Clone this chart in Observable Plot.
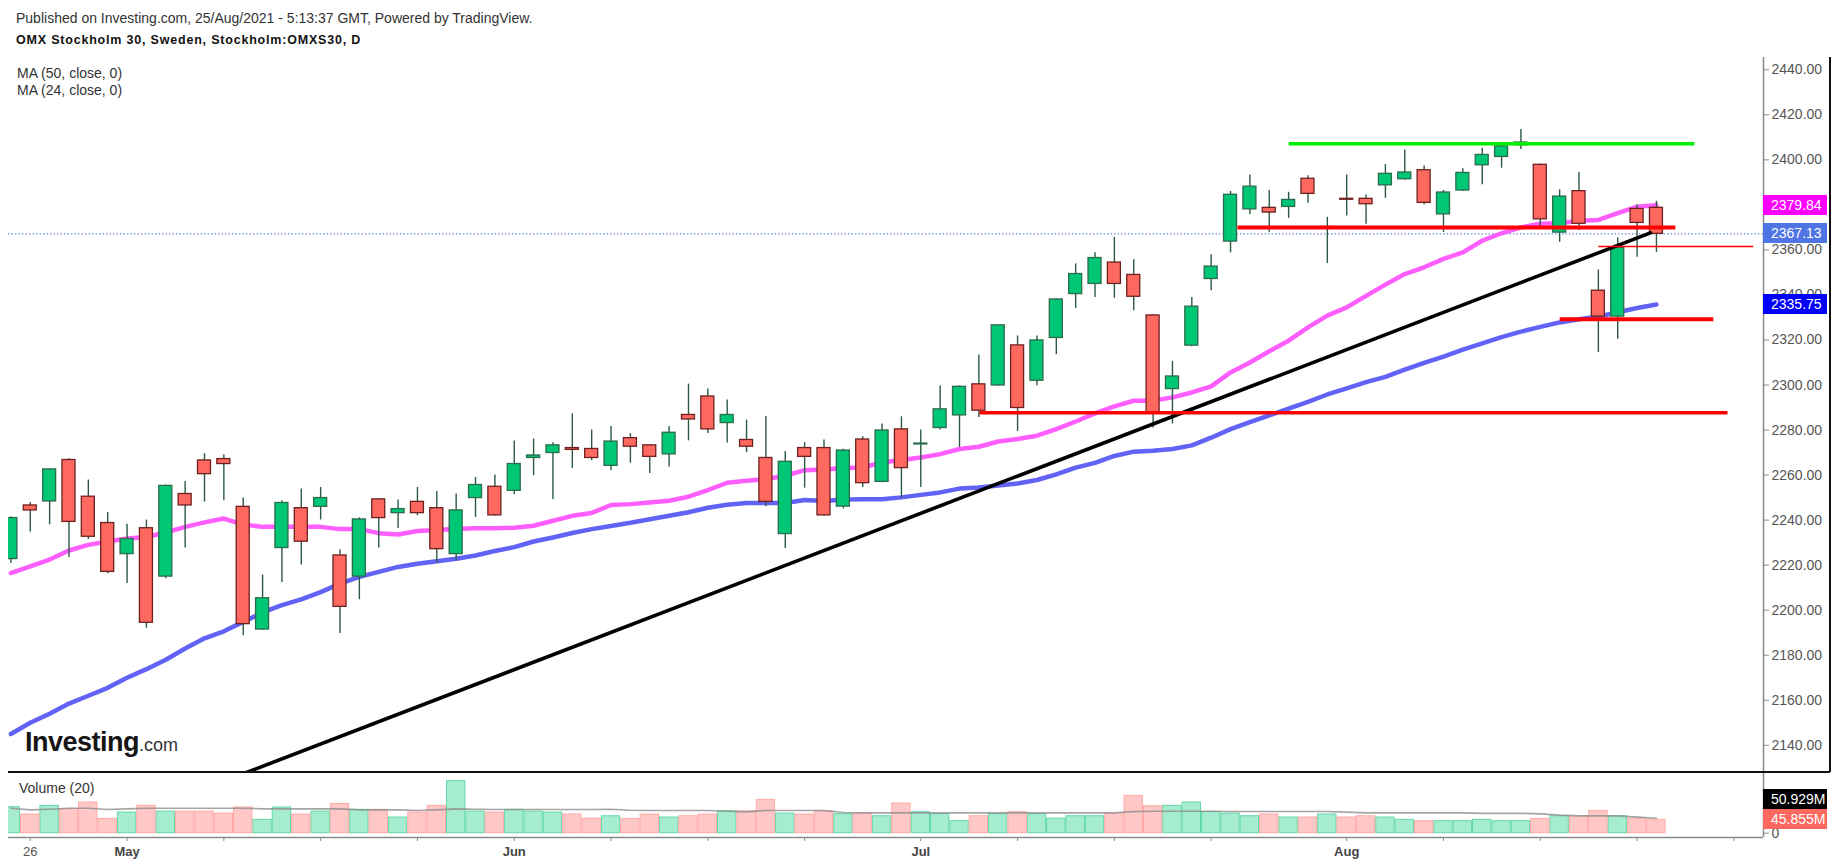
<!DOCTYPE html>
<html>
<head>
<meta charset="utf-8">
<script src="https://cdn.jsdelivr.net/npm/d3@7"></script>
<script src="https://cdn.jsdelivr.net/npm/@observablehq/plot@0.6"></script>
<style>
  html, body { margin: 0; padding: 0; background: #fff; }
  body { font-family: "Liberation Sans", Arial, sans-serif; }
  #wrap { position: relative; width: 1837px; height: 866px; overflow: hidden; background: #fff; }
  #wrap > svg { position: absolute; left: 0; }
  .t { position: absolute; white-space: nowrap; line-height: 1; transform: translateY(-50%); }
  .box { position: absolute; left: 1763px; width: 64px; height: 20px; line-height: 20px; color: #fff;
         font-size: 14px; padding-left: 8px; box-sizing: border-box; }
  .hl { position: absolute; }
</style>
</head>
<body>
<div id="wrap"></div>
<script>
// ---------- data ----------
// trading-day index 0 = 23 Apr 2021 ... 85 = 24 Aug 2021
const open  = [2222.7,2246.5,2248.3,2266.7,2250.4,2238.7,2224.9,2236.4,2214.9,2251.6,2266.5,2267.1,2245.9,2191.4,2227.6,2245.3,2245.9,2224.3,2214.9,2249.2,2243.1,2248.1,2245.3,2224.9,2249.8,2254.8,2253.0,2267.6,2269.8,2272.0,2271.6,2264.1,2276.4,2273.2,2269.2,2286.7,2294.9,2283.1,2275.6,2267.6,2233.8,2272.0,2272.0,2246.0,2275.8,2257.0,2280.3,2273.6,2280.9,2286.5,2300.3,2299.8,2317.6,2301.9,2320.9,2340.4,2344.9,2354.4,2348.9,2330.9,2298.2,2317.5,2347.1,2363.7,2378.0,2378.7,2379.1,2391.6,2369.8,2382.7,2382.7,2388.7,2391.4,2395.4,2375.8,2386.4,2397.6,2401.3,2406.5,2397.8,2367.7,2386.1,2341.9,2330.4,2378.2,2378.7];
const high  = [2241.5,2247.8,2262.8,2267.2,2257.8,2243.4,2238.2,2240.0,2255.6,2257.2,2269.5,2268.9,2249.8,2215.6,2248.6,2253.8,2254.5,2226.7,2241.0,2249.6,2248.9,2254.5,2252.7,2251.6,2258.9,2260.0,2275.1,2276.0,2274.4,2287.2,2280.0,2281.6,2278.4,2273.6,2281.6,2300.4,2298.2,2293.3,2284.4,2286.0,2270.5,2274.4,2275.6,2271.5,2277.0,2282.7,2285.9,2280.0,2299.6,2299.6,2313.3,2326.8,2321.8,2321.8,2338.2,2353.8,2358.8,2365.6,2355.6,2331.2,2310.5,2338.9,2357.9,2386.0,2393.3,2386.4,2385.6,2392.9,2374.5,2393.3,2384.4,2397.9,2404.4,2397.3,2386.4,2396.1,2405.2,2407.4,2413.5,2398.2,2386.7,2394.4,2351.1,2365.3,2380.0,2381.6];
const low   = [2220.7,2234.7,2237.9,2223.4,2231.4,2216.2,2211.8,2192.0,2214.0,2227.6,2248.0,2248.6,2188.6,2191.0,2212.3,2220.1,2240.1,2189.6,2204.6,2227.6,2236.3,2241.9,2220.9,2221.9,2241.2,2241.8,2251.4,2259.7,2249.2,2262.9,2266.4,2261.9,2265.3,2260.7,2263.6,2275.2,2278.5,2274.2,2270.0,2245.9,2227.4,2254.2,2241.8,2245.0,2254.5,2256.6,2249.8,2254.5,2280.0,2272.3,2285.6,2299.5,2279.4,2299.7,2313.5,2334.0,2338.9,2338.5,2333.0,2280.9,2282.7,2317.0,2341.9,2358.7,2375.7,2367.8,2374.0,2380.7,2354.0,2375.1,2371.4,2382.9,2391.0,2380.1,2367.8,2386.0,2389.0,2396.3,2404.6,2369.6,2363.4,2368.6,2314.5,2320.3,2356.7,2358.9];
const close = [2240.9,2244.3,2262.5,2239.2,2232.6,2217.0,2231.6,2194.4,2255.2,2246.5,2260.4,2264.9,2193.8,2205.3,2247.6,2230.4,2249.8,2201.5,2240.3,2240.9,2244.9,2243.1,2227.1,2244.3,2255.6,2242.1,2264.9,2268.7,2273.2,2271.2,2267.6,2274.9,2272.6,2268.1,2278.8,2284.7,2280.3,2286.7,2272.6,2248.1,2265.9,2268.1,2242.1,2270.9,2256.4,2279.8,2263.1,2274.0,2289.2,2299.2,2288.6,2326.5,2289.8,2319.8,2338.0,2349.3,2356.4,2344.9,2339.2,2287.6,2303.8,2334.8,2352.6,2384.5,2388.1,2376.6,2382.2,2384.9,2370.2,2382.3,2380.3,2393.8,2394.4,2380.9,2385.5,2394.2,2402.2,2406.0,2407.7,2373.6,2383.7,2371.6,2330.4,2360.9,2372.0,2367.13];
const ma50  = [2145,2150,2154,2158.5,2162,2165.5,2170,2173.8,2178,2183,2187.5,2190.6,2194.8,2199,2202.2,2204.8,2208,2211.8,2214.8,2217,2219.2,2220.6,2221.7,2222.8,2224.3,2226.3,2228,2230.5,2232.3,2234.3,2236,2237.4,2238.8,2240.4,2241.9,2243.5,2245.5,2246.8,2247.6,2247.6,2247.6,2248.9,2248.5,2249.2,2249.3,2249.3,2250.1,2251.2,2252.3,2254,2254.5,2255.4,2256.3,2257.8,2260.3,2263.3,2265.4,2268.5,2270.4,2270.8,2271.6,2273.2,2276.6,2280.4,2283.5,2286.5,2289.5,2292.5,2295.8,2298.5,2301.3,2303.6,2306.8,2309.8,2312.6,2315.7,2318.5,2321.3,2323.7,2325.8,2327.8,2329.2,2330.4,2332.3,2334.2,2335.75];
const ma24  = [2216.5,2219.5,2222.5,2226.5,2229,2230.5,2231.8,2232.5,2234.5,2237,2239,2240.7,2238,2237,2237,2237,2237,2236,2236,2234.2,2233.6,2235.2,2235.6,2236,2236.4,2236.4,2236.6,2237.5,2239.7,2241.9,2243.2,2246.7,2247.1,2247.8,2248.6,2250.4,2253.3,2256.6,2257.5,2258.2,2259.7,2262.2,2262.5,2263.1,2263.4,2265.6,2266.7,2267.8,2269.3,2271.6,2272.6,2274.9,2276,2277.5,2280.4,2283.8,2287.4,2290.5,2293,2293,2294.5,2296.7,2299.4,2305.6,2310,2315,2319.7,2325.6,2330.8,2334.5,2339.6,2344.6,2349.3,2352.3,2356,2358.9,2364.1,2367.4,2370,2371.6,2371.8,2373,2373.3,2376.3,2379.2,2379.84];
// volume in millions
const volume = [89,64,93.6,83,105,49,70.7,93.6,74,74,74,67,88,45.6,88,64,74,100,80,80,53.6,70.7,93.6,178,74,70.7,80,74,70.7,64,50,58,49,64,53.6,58,64,75,75,114,67,64,75,65,67,58,101.5,72,65,41,58,65,72,65,50,58,58,67,127.8,92,93.6,105,72,67,58,64,53.6,53.6,64,53.6,58,53.6,45.6,41,41,41,45.6,41,41,49,58,58,76,58,50,45.855];
const volMA  = [85.6,79.9,82.1,85.6,85.6,81.0,83.3,85.6,85.6,85.6,85.6,85.6,85.6,83.3,83.3,83.3,83.3,83.3,79.9,79.9,79.9,77.6,79.9,83.3,82.1,81.0,81.0,81.0,81.0,81.0,81.0,82.1,78.5,77.6,77.6,77.6,77.6,75,73,77.6,77.6,77.6,77.6,71,69.6,69.6,69.6,69.6,69.6,69.6,69.6,69.6,69.6,69.6,69.6,69.6,69.6,69.6,74,75.3,75.3,75.3,75.3,74.2,74.2,74.2,74.2,74.2,74.2,72,69.6,69.6,69.6,69.6,69.6,69.6,68,68,68,66.2,62,59.3,59.3,59.3,55,50.929];
// drawn levels
const levelPrice = [2407.2, 2370.0, 2361.5, 2329.2, 2287.7];
const levelFrom  = [66.0, 63.36, 82.0, 80.0, 50.03];
const levelTo    = [86.96, 85.98, 90.0, 87.94, 88.67];
const levelColor = ["#00ee00", "#ff0000", "#ff0000", "#ff0000", "#ff0000"];
const levelWidth = [3.5, 4, 1.6, 4, 3.5];
const trendIdx   = [12.2, 84.69];
const trendPrice = [2128.0, 2367.6];
// axes
const priceTicks = d3.range(2140, 2441, 20);
const dateTickIdx = [1,6,11,16,21,26,31,36,41,47,52,57,62,69,74,79,84,89];
const dayLabelIdx = [1];
const dayLabels = ["26"];
const monthLabelIdx = [6, 26, 47, 69];
const monthLabels = ["May", "Jun", "Jul", "Aug"];

// ---------- build ----------
const FONT = '"Liberation Sans", Arial, sans-serif';
const GREEN = "#00c776", GREEN_EDGE = "#2c6b4c";
const RED = "#fd695f", RED_EDGE = "#6e2020";
const xDomain = [-0.124, 90.53];

const candles = close.map((c, i) => ({
  i, o: open[i], h: high[i], l: low[i], c, v: volume[i], up: c >= open[i]
}));
const ups = candles.filter(d => d.up), downs = candles.filter(d => !d.up);
const ma50Rows = ma50.map((v, i) => ({i, v}));
const ma24Rows = ma24.map((v, i) => ({i, v}));
const volMARows = volMA.map((v, i) => ({i, v}));
const levels = levelPrice.map((p, k) => ({p, a: levelFrom[k], b: levelTo[k], color: levelColor[k], w: levelWidth[k]}));
const trend = trendIdx.map((i, k) => ({i, p: trendPrice[k]}));
const HW = 0.336;

const price = Plot.plot({
  width: 1837, height: 772,
  marginTop: 57, marginBottom: 0, marginLeft: 8, marginRight: 74,
  x: {domain: xDomain, axis: null},
  y: {domain: [2127.9, 2445.47]},
  style: {fontFamily: FONT, background: "transparent", overflow: "visible"},
  marks: [
    Plot.ruleY([close[close.length - 1]], {stroke: "#4a6fe3", strokeWidth: 1, strokeDasharray: "1.5,2"}),
    Plot.line(ma50Rows, {x: "i", y: "v", stroke: "#5a5bf6", strokeWidth: 4.5, strokeOpacity: 0.95, clip: true}),
    Plot.line(ma24Rows, {x: "i", y: "v", stroke: "#ff55ff", strokeWidth: 4.5, strokeOpacity: 0.95, clip: true}),
    Plot.ruleX(candles, {x: "i", y1: "l", y2: "h", stroke: "#2b5a42", strokeWidth: 1.4, clip: true}),
    Plot.rect(ups, {x1: d => d.i - HW, x2: d => d.i + HW, y1: "o", y2: "c", fill: GREEN, stroke: GREEN_EDGE, strokeWidth: 1.3, clip: true}),
    Plot.rect(downs, {x1: d => d.i - HW, x2: d => d.i + HW, y1: "o", y2: "c", fill: RED, stroke: RED_EDGE, strokeWidth: 1.3, clip: true}),
    Plot.line(trend, {x: "i", y: "p", stroke: "#000", strokeWidth: 3.6, clip: true}),
    ...levels.map(l => Plot.link([l], {x1: "a", x2: "b", y1: "p", y2: "p", stroke: l.color, strokeWidth: l.w, clip: true})),
    Plot.ruleX([xDomain[1]], {stroke: "#8a8a8a", strokeWidth: 1.5}),
    Plot.axisY({anchor: "right", ticks: priceTicks, tickFormat: d => d.toFixed(2), tickSize: 5, tickPadding: 3,
                fontSize: 14, fill: "#555", stroke: "#8a8a8a", label: null})
  ]
});
price.style.top = "0px";

const vol = Plot.plot({
  width: 1837, height: 94,
  marginTop: 0, marginBottom: 29, marginLeft: 8, marginRight: 74,
  x: {domain: xDomain},
  y: {domain: [-14.7, 207.7]},
  style: {fontFamily: FONT, background: "transparent", overflow: "visible"},
  marks: [
    Plot.rect(ups, {x1: d => d.i - 0.5, x2: d => d.i + 0.5, y1: 0, y2: "v", fill: "#a6ecd0", stroke: "#62d9a6", strokeWidth: 1, insetLeft: 0.5, insetRight: 0.5, clip: true}),
    Plot.rect(downs, {x1: d => d.i - 0.5, x2: d => d.i + 0.5, y1: 0, y2: "v", fill: "#ffc7c6", stroke: "#ffaaa8", strokeWidth: 1, insetLeft: 0.5, insetRight: 0.5, clip: true}),
    Plot.line(volMARows, {x: "i", y: "v", stroke: "#8f8f8f", strokeWidth: 1.6, strokeOpacity: 0.8, clip: true}),
    Plot.ruleY([-14.7], {stroke: "#8a8a8a", strokeWidth: 1.5}),
    Plot.ruleX([xDomain[1]], {stroke: "#8a8a8a", strokeWidth: 1.5}),
    Plot.axisX({ticks: dateTickIdx, tickFormat: () => "", tickSize: 4, stroke: "#8a8a8a", label: null}),
    Plot.axisX({ticks: dayLabelIdx, tickFormat: i => dayLabels[dayLabelIdx.indexOf(i)], tickSize: 0, tickPadding: 9,
                fontSize: 13, fill: "#555", label: null}),
    Plot.axisX({ticks: monthLabelIdx, tickFormat: i => monthLabels[monthLabelIdx.indexOf(i)], tickSize: 0, tickPadding: 9,
                fontSize: 13, fontWeight: "bold", fill: "#444", label: null}),
    Plot.axisY({anchor: "right", ticks: [0], tickFormat: d => String(d), tickSize: 5, tickPadding: 3,
                fontSize: 14, fill: "#555", stroke: "#8a8a8a", label: null})
  ]
});
const VOL_TOP = 772;
vol.style.top = VOL_TOP + "px";

const wrap = document.getElementById("wrap");
wrap.appendChild(price);
wrap.appendChild(vol);

function addText(txt, x, yc, css) {
  const d = document.createElement("div");
  d.className = "t";
  d.textContent = txt;
  d.style.left = x + "px";
  d.style.top = yc + "px";
  Object.assign(d.style, css || {});
  wrap.appendChild(d);
  return d;
}
function addBox(txt, yc, bg) {
  const d = document.createElement("div");
  d.className = "box";
  d.textContent = txt;
  d.style.top = (yc - 10) + "px";
  d.style.background = bg;
  wrap.appendChild(d);
}
function addLine(left, top, w, h, color) {
  const d = document.createElement("div");
  d.className = "hl";
  Object.assign(d.style, {left: left + "px", top: top + "px", width: w + "px", height: h + "px", background: color});
  wrap.appendChild(d);
}

// frame lines
addLine(8, 771, 1822, 2, "#111");
addLine(1829, 57, 1.5, 715, "#111");

// header & legends
addText("Published on Investing.com, 25/Aug/2021 - 5:13:37 GMT, Powered by TradingView.", 16, 18, {fontSize: "14px", color: "#333"});
addText("OMX Stockholm 30, Sweden, Stockholm:OMXS30, D", 16, 40, {fontSize: "12.5px", fontWeight: "bold", letterSpacing: "0.8px", color: "#111"});
addText("MA (50, close, 0)", 17, 73, {fontSize: "14px", color: "#333"});
addText("MA (24, close, 0)", 17, 90, {fontSize: "14px", color: "#333"});
addText("Volume (20)", 19, 788, {fontSize: "14px", color: "#333"});

// logo
const logo = addText("", 25, 742, {});
logo.innerHTML = '<span style="font-size:27px;font-weight:bold;color:#151515;letter-spacing:-0.5px">Investing</span><span style="font-size:18px;color:#333">.com</span>';

// value labels on the right axis (positioned by the plot scales)
const ys = price.scale("y");
addBox(ma24[ma24.length - 1].toFixed(2), ys.apply(ma24[ma24.length - 1]), "#ff00ff");
addBox(close[close.length - 1].toFixed(2), ys.apply(close[close.length - 1]), "#4f74e3");
addBox(ma50[ma50.length - 1].toFixed(2), ys.apply(ma50[ma50.length - 1]), "#0000ff");
const vs = vol.scale("y");
const lastVolY = VOL_TOP + vs.apply(volume[volume.length - 1]);
addBox(volume[volume.length - 1].toFixed(3) + "M", lastVolY, "#fd695f");
addBox(volMA[volMA.length - 1].toFixed(3) + "M", lastVolY - 20, "#000");
</script>
</body>
</html>
